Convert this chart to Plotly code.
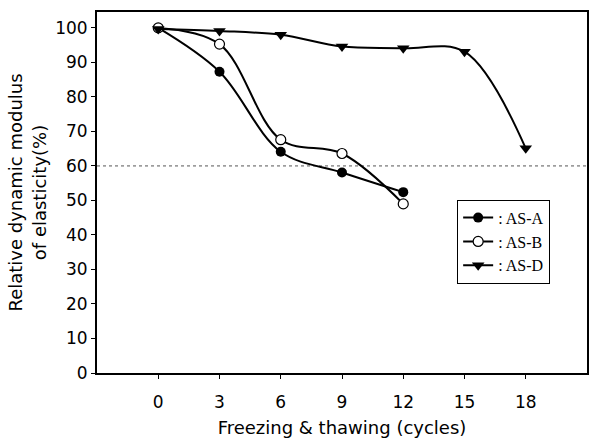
import plotly.graph_objects as go

# Freeze–thaw cycles and relative dynamic modulus (%) for each mix
cycles_ab = [0, 3, 6, 9, 12]
cycles_d = [0, 3, 6, 9, 12, 15, 18]
as_a = [100, 87.3, 64.1, 58.1, 52.4]
as_b = [100, 95.3, 67.6, 63.6, 49.0]
as_d = [99.7, 99.1, 98.0, 94.6, 94.1, 93.1, 65.1]
x_ticks = [0, 3, 6, 9, 12, 15, 18]
y_ticks = [0, 10, 20, 30, 40, 50, 60, 70, 80, 90, 100]
threshold = 60

fig = go.Figure()

series = [
    (": AS-A", cycles_ab, as_a, dict(symbol="circle", color="black", size=10)),
    (": AS-B", cycles_ab, as_b, dict(symbol="circle", color="white", size=10,
                                     line=dict(color="black", width=1.2))),
    (": AS-D", cycles_d, as_d, dict(symbol="triangle-down", color="black", size=11)),
]
for name, xs, ys, mk in series:
    fig.add_trace(go.Scatter(
        x=xs, y=ys, name=name, mode="lines+markers",
        line=dict(color="black", width=2, shape="spline", smoothing=1.0),
        marker=mk,
    ))

# dotted reference line at 60 %
fig.add_shape(type="line", xref="paper", x0=0, x1=1, y0=threshold, y1=threshold,
              line=dict(color="#555555", width=1, dash="dot"), layer="below")

tick_font = dict(family="DejaVu Sans, sans-serif", size=17, color="black")
title_font = dict(family="DejaVu Sans, sans-serif", size=18, color="black")

fig.update_layout(
    width=594, height=442,
    margin=dict(l=97, r=5, t=12, b=69),
    plot_bgcolor="white", paper_bgcolor="white",
    font=tick_font,
    showlegend=True,
    legend=dict(
        x=0.735, y=0.48, xanchor="left", yanchor="top",
        bgcolor="white", bordercolor="black", borderwidth=1,
        font=dict(family="Liberation Serif, Times New Roman, serif", size=16, color="black"),
        tracegroupgap=0, itemwidth=30,
    ),
    xaxis=dict(
        range=[-3, 21], tickmode="array", tickvals=x_ticks,
        ticks="outside", ticklen=4, tickcolor="black",
        ticklabelstandoff=9,
        showgrid=False, zeroline=False,
        showline=True, linecolor="black", linewidth=2, mirror=True,
        title=dict(text="Freezing & thawing (cycles)", font=title_font, standoff=10),
        tickfont=tick_font,
    ),
    yaxis=dict(
        range=[0, 104.6], tickmode="array", tickvals=y_ticks,
        ticks="outside", ticklen=4, tickcolor="black",
        showgrid=False, zeroline=False,
        showline=True, linecolor="black", linewidth=2, mirror=True,
        title=dict(text="Relative dynamic modulus<br>of elasticity(%)", font=title_font, standoff=4),
        tickfont=tick_font,
    ),
)

fig.write_html("out.html")
